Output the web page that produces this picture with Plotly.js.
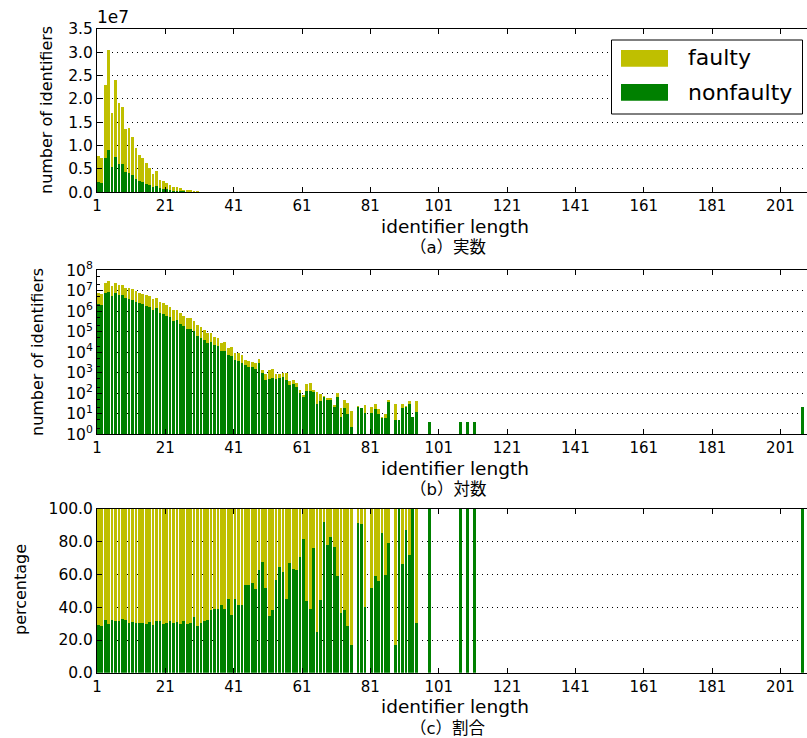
<!DOCTYPE html>
<html><head><meta charset="utf-8">
<script src="https://cdn.plot.ly/plotly-3.0.1.min.js"></script>
<style>html,body{margin:0;padding:0;overflow:hidden;background:#fff}#chart{width:815px;height:738px}</style>
</head><body><div id="chart"></div>
<script>
// identifier lengths that have at least one identifier
const lengths = [
  1,2,3,4,5,6,7,8,9,10,11,12,13,14,15,16,17,18,19,20,
  21,22,23,24,25,26,27,28,29,30,31,32,33,34,35,36,37,38,39,40,
  41,42,43,44,45,46,47,48,49,50,51,52,53,54,55,56,57,58,59,60,
  61,62,63,64,65,66,67,68,69,70,71,72,73,74,75,77,78,79,81,82,
  83,84,85,86,88,89,90,91,92,93,94,98,107,109,111,207];
// total number of identifiers (faulty + nonfaulty) per length
const totals = [
  7.8e6,7.3e6,2.30e7,3.05e7,1.71e7,2.41e7,1.91e7,1.83e7,1.35e7,1.37e7,
  1.19e7,9.4e6,8.0e6,7.3e6,6.2e6,5.3e6,4.0e6,4.6e6,2.7e6,2.5e6,
  2.0e6,1.6e6,1.15e6,1.15e6,8.2e5,5.8e5,4.7e5,4.7e5,3.3e5,2.1e5,
  1.7e5,1.2e5,8.6e4,8.6e4,5.5e4,4.9e4,2.8e4,3.1e4,1.6e4,1.8e4,
  9100,9100,7300,4200,3700,3300,3000,4700,1360,865,
  1360,1510,865,865,966,966,394,441,315,143,
  82,281,315,143,119,91,73,58,58,27,
  106,19,47,35,13,24,20,27,21,30,
  17,7,10,47,30,5,30,24,42,7,
  42,4,4,4,4,21];
// share of nonfaulty identifiers per length (%)
const nonfaultyPct = [
  29.2,28.5,32.2,29.8,32.2,31.6,31.6,32.8,32.2,30.3,
  31.0,30.3,30.3,30.3,29.8,31.0,29.2,31.6,31.6,29.8,
  30.3,31.6,30.3,31.0,29.8,31.6,29.8,30.3,33.9,28.5,
  30.3,31.6,32.2,38.3,39.0,39.0,41.5,39.0,45.2,35.4,
  45.2,41.5,41.5,53.7,53.7,54.9,51.3,62.9,67.5,51.7,
  34.9,38.3,56.6,64.5,61.5,45.0,67.0,63.3,62.7,70.6,
  81.6,43.8,38.9,76.1,24.9,44.4,92.0,77.9,82.8,76.7,
  59.0,36.5,38.3,28.5,17.0,91.5,90.9,40.0,51.7,59.4,
  56.0,85.4,59.7,79.3,17.0,100,66.4,87.1,71.9,100,
  30.5,100,100,100,100,100];

const xTickVals = [1,21,41,61,81,101,121,141,161,181,201];
const linTickVals = [0,5e6,1e7,1.5e7,2e7,2.5e7,3e7,3.5e7];
const linTickText = ['0.0','0.5','1.0','1.5','2.0','2.5','3.0','3.5'];
const logTickVals = [1,10,100,1e3,1e4,1e5,1e6,1e7,1e8];
const logTickText = logTickVals.map((v,i)=>'10<sup>'+i+'</sup>');
const pctTickVals = [0,20,40,60,80,100];
const pctTickText = ['0.0','20.0','40.0','60.0','80.0','100.0'];

const nonfaulty = totals.map((t,k)=>t*nonfaultyPct[k]/100);
const faulty = totals.map((t,k)=>t-nonfaulty[k]);
const faultyPct = nonfaultyPct.map(p=>100-p);

const GREEN='#008000', YELLOW='#bfbf00';
const W=815,H=738,L=97;
const px=x=>(x-L)/(W-L), py=y=>(H-y)/H;

function bars(y, color, xa, ya){
  return {type:'bar', x:lengths, y:y, width:0.8, offset:0, xaxis:xa, yaxis:ya,
    marker:{color:color, line:{width:0}}, showlegend:false, hoverinfo:'skip'};
}
const traces=[
  bars(nonfaulty,GREEN,'x','y'), bars(faulty,YELLOW,'x','y'),
  bars(nonfaulty,GREEN,'x2','y2'), bars(faulty,YELLOW,'x2','y2'),
  bars(nonfaultyPct,GREEN,'x3','y3'), bars(faultyPct,YELLOW,'x3','y3')
];
const FONT='DejaVu Sans, Noto Sans CJK JP, sans-serif';
const tickf={family:FONT,size:15,color:'#000'};
function xax(anchor){
  return {anchor:anchor, domain:[0,1], range:[1, 1+(W-L)/3.417], tickmode:'array', tickvals:xTickVals,
    ticktext:xTickVals.map(String), ticks:'inside', ticklen:5, tickcolor:'#000', showline:true,
    linecolor:'#000', linewidth:1, mirror:'ticks', showgrid:false, zeroline:false, tickfont:tickf};
}
function yax(anchor, dom, extra){
  return Object.assign({anchor:anchor, domain:dom, ticks:'inside', ticklen:5, tickcolor:'#000', showline:true,
    linecolor:'#000', linewidth:1, mirror:'ticks', showgrid:true, gridcolor:'#000', griddash:'1px,4px',
    gridwidth:1, zeroline:false, tickfont:Object.assign({},tickf,{size:15.5}), tickmode:'array'}, extra);
}
function ann(text, x, y, size, extra){
  return Object.assign({text:text, xref:'paper', yref:'paper', x:px(x), y:py(y), xanchor:'center',
    yanchor:'middle', showarrow:false, font:{size:size, family:FONT, color:'#000'}}, extra||{});
}
const layout={
  width:W, height:H, margin:{l:L,r:0,t:0,b:0}, barmode:'stack', bargap:0,
  paper_bgcolor:'#fff', plot_bgcolor:'#fff', font:{family:FONT,color:'#000'},
  xaxis:xax('y'), xaxis2:xax('y2'), xaxis3:xax('y3'),
  yaxis:yax('x',[py(192.3),py(29)],{range:[0,3.5e7],tickvals:linTickVals,ticktext:linTickText}),
  yaxis2:yax('x2',[py(434.2),py(270.2)],{type:'log',range:[0,8],tickvals:logTickVals,ticktext:logTickText,
    minor:{ticks:'inside',ticklen:3,tickcolor:'#000',showgrid:false}}),
  yaxis3:yax('x3',[py(672.8),py(509)],{range:[0,100],tickvals:pctTickVals,ticktext:pctTickText}),
  annotations:[
    ann('1e7',95,17,17,{xanchor:'left'}),
    ann('identifier length',455,227,18.5),
    ann('identifier length',455,468,18.5),
    ann('identifier length',455,706,18.5),
    ann('（a）実数',448,247.5,16.5),
    ann('（b）対数',448,490,16.5),
    ann('（c）割合',448,728,16.5),
    ann('number of identifiers',46,110,16,{textangle:-90}),
    ann('number of identifiers',37,352,16,{textangle:-90}),
    ann('percentage',20,590,16,{textangle:-90}),
    ann('faulty',686,58,22,{xanchor:'left'}),
    ann('nonfaulty',686,92,22,{xanchor:'left'})
  ],
  shapes:[
    {type:'rect',xref:'paper',yref:'paper',x0:px(611.5),x1:px(802.5),y0:py(40),y1:py(114),fillcolor:'#fff',line:{color:'#000',width:1}},
    {type:'rect',xref:'paper',yref:'paper',x0:px(621),x1:px(668),y0:py(50),y1:py(66.7),fillcolor:YELLOW,line:{width:0}},
    {type:'rect',xref:'paper',yref:'paper',x0:px(621),x1:px(668),y0:py(84),y1:py(100.7),fillcolor:GREEN,line:{width:0}}
  ]
};
Plotly.newPlot('chart',traces,layout,{displayModeBar:false,staticPlot:true});
</script></body></html>
